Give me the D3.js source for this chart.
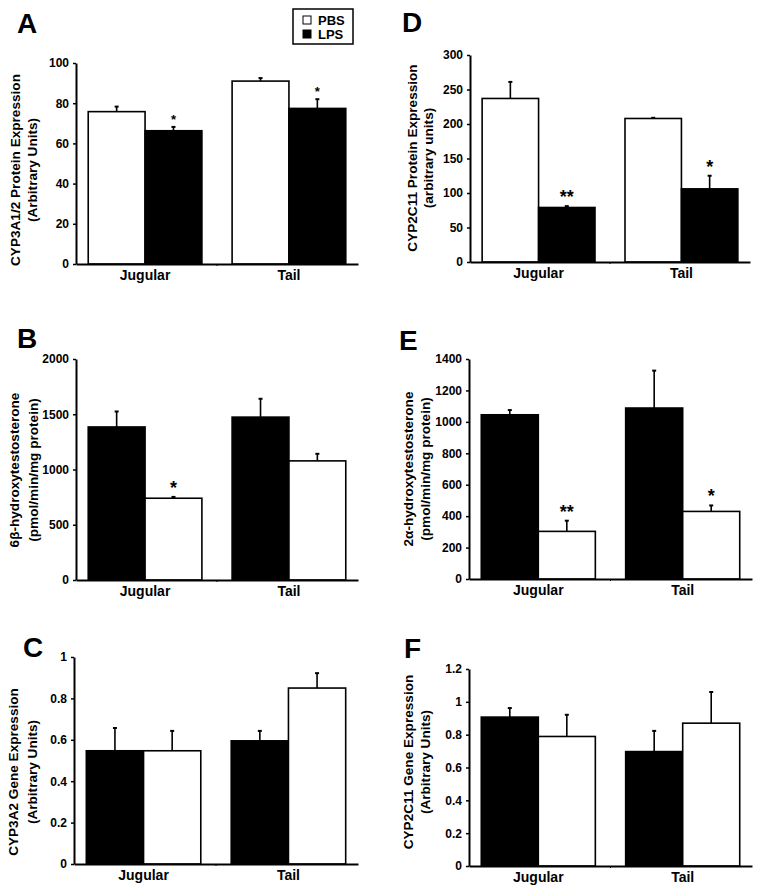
<!DOCTYPE html>
<html>
<head>
<meta charset="utf-8">
<script src="https://cdn.jsdelivr.net/npm/d3@7/dist/d3.min.js"></script>
<style>
  html, body { margin: 0; padding: 0; background: #fff; }
  svg { display: block; }
  text { font-family: "Liberation Sans", Arial, Helvetica, sans-serif; font-weight: bold; fill: #000; }
</style>
</head>
<body>
<svg id="chart" width="762" height="896"></svg>
<script>
// ---------- data ----------
const categories = ["Jugular", "Tail"];
const legendLabels = ["PBS", "LPS"];
const legendFills = ["#fff", "#000"];

// Panel A: CYP3A1/2 protein (PBS, LPS)
const aFirst = [75.8, 91.0],  aFirstErr = [2.5, 1.5];
const aSecond = [66.3, 77.4], aSecondErr = [1.9, 4.6];
const aTicks = [0, 20, 40, 60, 80, 100];
const aStars = ["", "*", "", "*"];

// Panel D: CYP2C11 protein (PBS, LPS)
const dFirst = [237, 208],  dFirstErr = [24, 1];
const dSecond = [79, 106],  dSecondErr = [2, 19];
const dTicks = [0, 50, 100, 150, 200, 250, 300];
const dStars = ["", "**", "", "*"];

// Panel B: 6β-hydroxytestosterone
const bFirst = [1385, 1474], bFirstErr = [140, 166];
const bSecond = [740, 1078], bSecondErr = [12, 64];
const bTicks = [0, 500, 1000, 1500, 2000];
const bStars = ["", "*", "", ""];

// Panel E: 2α-hydroxytestosterone
const eFirst = [1045, 1088], eFirstErr = [30, 238];
const eSecond = [303, 430],  eSecondErr = [68, 38];
const eTicks = [0, 200, 400, 600, 800, 1000, 1200, 1400];
const eStars = ["", "**", "", "*"];

// Panel C: CYP3A2 gene
const cFirst = [0.547, 0.595], cFirstErr = [0.11, 0.048];
const cSecond = [0.547, 0.85], cSecondErr = [0.096, 0.072];
const cTicks = [0, 0.2, 0.4, 0.6, 0.8, 1];
const cStars = ["", "", "", ""];

// Panel F: CYP2C11 gene
const fFirst = [0.907, 0.697], fFirstErr = [0.055, 0.126];
const fSecond = [0.789, 0.870], fSecondErr = [0.132, 0.19];
const fTicks = [0, 0.2, 0.4, 0.6, 0.8, 1, 1.2];
const fStars = ["", "", "", ""];

// ---------- layout ----------
const panels = [
  { letter: "A", lx: 17, ly: 33, ax: 76, axEnd: 358, y0: 264, yTop: 63, max: 100, ticks: aTicks,
    first: aFirst, firstErr: aFirstErr, second: aSecond, secondErr: aSecondErr,
    fills: ["#fff", "#000"], stars: aStars, starSize: 13,
    l1: "CYP3A1/2 Protein Expression", l2: "(Arbitrary Units)", l1x: 15, l2x: 32, lcy: 170 },
  { letter: "D", lx: 402, ly: 32, ax: 470, axEnd: 750, y0: 262, yTop: 55, max: 300, ticks: dTicks,
    first: dFirst, firstErr: dFirstErr, second: dSecond, secondErr: dSecondErr,
    fills: ["#fff", "#000"], stars: dStars, starSize: 18,
    l1: "CYP2C11 Protein Expression", l2: "(arbitrary units)", l1x: 412, l2x: 428, lcy: 158 },
  { letter: "B", lx: 17, ly: 348, ax: 76, axEnd: 358, y0: 580, yTop: 359, max: 2000, ticks: bTicks,
    first: bFirst, firstErr: bFirstErr, second: bSecond, secondErr: bSecondErr,
    fills: ["#000", "#fff"], stars: bStars, starSize: 18,
    l1: "6β-hydroxytestosterone", l2: "(pmol/min/mg protein)", l1x: 14, l2x: 33, lcy: 470 },
  { letter: "E", lx: 399, ly: 350, ax: 469, axEnd: 752, y0: 579, yTop: 359, max: 1400, ticks: eTicks,
    first: eFirst, firstErr: eFirstErr, second: eSecond, secondErr: eSecondErr,
    fills: ["#000", "#fff"], stars: eStars, starSize: 18,
    l1: "2α-hydroxytestosterone", l2: "(pmol/min/mg protein)", l1x: 408, l2x: 425, lcy: 469 },
  { letter: "C", lx: 23, ly: 657, ax: 74, axEnd: 358, y0: 864, yTop: 657, max: 1, ticks: cTicks,
    first: cFirst, firstErr: cFirstErr, second: cSecond, secondErr: cSecondErr,
    fills: ["#000", "#fff"], stars: cStars, starSize: 18,
    l1: "CYP3A2 Gene Expression", l2: "(Arbitrary Units)", l1x: 13, l2x: 32, lcy: 772 },
  { letter: "F", lx: 404, ly: 658, ax: 469, axEnd: 752, y0: 866, yTop: 669, max: 1.2, ticks: fTicks,
    first: fFirst, firstErr: fFirstErr, second: fSecond, secondErr: fSecondErr,
    fills: ["#000", "#fff"], stars: fStars, starSize: 18,
    l1: "CYP2C11 Gene Expression", l2: "(Arbitrary Units)", l1x: 408, l2x: 425, lcy: 762 }
];

const svg = d3.select("#chart");
const fmt = d => String(+d.toFixed(2));

panels.forEach(p => {
  const g = svg.append("g");
  const y = d3.scaleLinear().domain([0, p.max]).range([p.y0, p.yTop]);
  const x = d3.scaleBand().domain(categories).range([p.ax, p.axEnd])
    .paddingInner(0.21).paddingOuter(0.085);
  const xs = d3.scaleBand().domain([0, 1]).range([0, x.bandwidth()]);

  const rows = [];
  categories.forEach((c, i) => {
    rows.push({ c, s: 0, v: p.first[i], e: p.firstErr[i], star: p.stars[i * 2] });
    rows.push({ c, s: 1, v: p.second[i], e: p.secondErr[i], star: p.stars[i * 2 + 1] });
  });

  // error bars
  const eg = g.append("g");
  rows.forEach(r => {
    const cx = x(r.c) + xs(r.s) + xs.bandwidth() / 2;
    eg.append("line").attr("x1", cx).attr("x2", cx)
      .attr("y1", y(r.v)).attr("y2", y(r.v + r.e))
      .attr("stroke", "#000").attr("stroke-width", 1.6);
    eg.append("line").attr("x1", cx - 2).attr("x2", cx + 2)
      .attr("y1", y(r.v + r.e)).attr("y2", y(r.v + r.e))
      .attr("stroke", "#000").attr("stroke-width", 2);
  });

  // bars
  g.append("g").selectAll("rect").data(rows).join("rect")
    .attr("x", r => x(r.c) + xs(r.s))
    .attr("y", r => y(r.v))
    .attr("width", xs.bandwidth())
    .attr("height", r => y(0) - y(r.v))
    .attr("fill", r => p.fills[r.s])
    .attr("stroke", "#000")
    .attr("stroke-width", 1.6);

  // significance stars
  g.append("g").selectAll("text").data(rows.filter(r => r.star)).join("text")
    .attr("x", r => x(r.c) + xs(r.s) + xs.bandwidth() / 2)
    .attr("y", r => y(r.v + r.e) - 3)
    .attr("text-anchor", "middle")
    .style("font-size", p.starSize + "px")
    .text(r => r.star);

  // y axis
  const ya = g.append("g").attr("transform", `translate(${p.ax},0)`)
    .call(d3.axisLeft(y).tickValues(p.ticks).tickFormat(fmt).tickSize(3).tickSizeOuter(0).tickPadding(4));
  ya.select(".domain").attr("stroke", "#000").attr("stroke-width", 2);
  ya.selectAll(".tick line").attr("stroke", "#000").attr("stroke-width", 1.5);
  ya.selectAll(".tick text").style("font-size", "12px").style("font-family", null).style("font-weight", "bold");

  // x axis
  const xa = g.append("g").attr("transform", `translate(0,${p.y0})`)
    .call(d3.axisBottom(x).tickSize(0).tickSizeOuter(0).tickPadding(6));
  xa.select(".domain").attr("stroke", "#000").attr("stroke-width", 2);
  xa.selectAll(".tick text").style("font-size", "14px").style("font-family", null).style("font-weight", "bold");
  const midX = (x(categories[0]) + x.bandwidth() + x(categories[1])) / 2;
  g.append("line").attr("x1", midX).attr("x2", midX).attr("y1", p.y0).attr("y2", p.y0 + 2)
    .attr("stroke", "#000").attr("stroke-width", 1);

  // y labels
  [[p.l1, p.l1x], [p.l2, p.l2x]].forEach(([t, lx]) => {
    g.append("text")
      .attr("transform", `translate(${lx},${p.lcy}) rotate(-90)`)
      .attr("text-anchor", "middle")
      .attr("dominant-baseline", "central")
      .style("font-size", "13.6px")
      .text(t);
  });

  // panel letter
  g.append("text").attr("x", p.lx).attr("y", p.ly)
    .style("font-size", "28px").style("font-weight", "bold").text(p.letter);
});

// legend
const lg = svg.append("g");
lg.append("rect").attr("x", 293).attr("y", 9).attr("width", 60).attr("height", 35)
  .attr("fill", "#fff").attr("stroke", "#000").attr("stroke-width", 1.5);
legendLabels.forEach((lab, i) => {
  lg.append("rect").attr("x", 303).attr("y", 16 + i * 14).attr("width", 8).attr("height", 8)
    .attr("fill", legendFills[i]).attr("stroke", "#000").attr("stroke-width", 1);
  lg.append("text").attr("x", 318).attr("y", 24.5 + i * 14).style("font-size", "13px").text(lab);
});
</script>
</body>
</html>
